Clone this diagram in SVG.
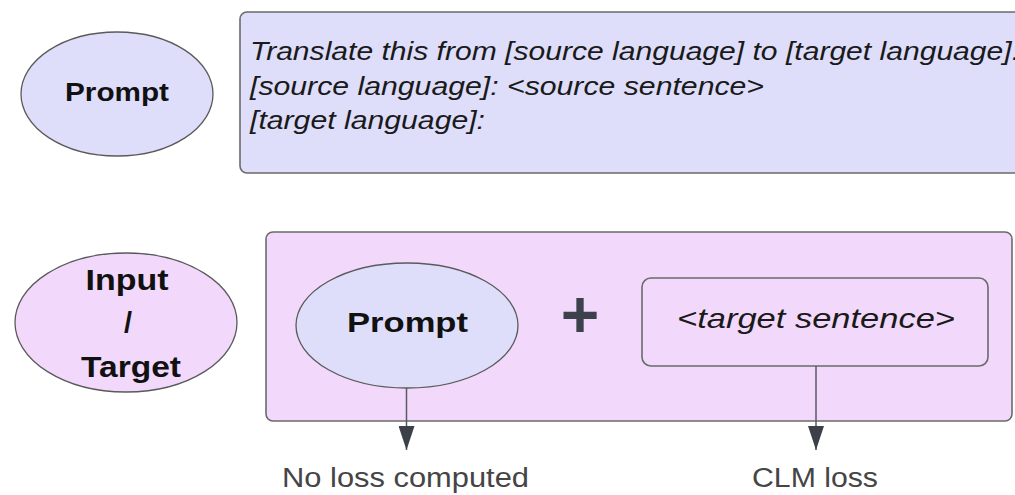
<svg xmlns="http://www.w3.org/2000/svg" width="1015" height="495" viewBox="0 0 1015 495">
  <style>
    .blue { fill: #dedefb; stroke: #5a5a5a; stroke-width: 1.3; }
    .pink { fill: #f2d9fc; stroke: #5a5a5a; stroke-width: 1.3; }
    .box { stroke: #6a6a6a; stroke-width: 1.6; }
    .bold { font-family: "Liberation Sans", Arial, sans-serif; font-weight: bold; fill: #111; }
    .ital { font-family: "Liberation Sans", Arial, sans-serif; font-style: italic; fill: #1a1a1a; }
    .lbl { font-family: "Liberation Sans", Arial, sans-serif; fill: #454545; }
    .conn { stroke: #555a62; stroke-width: 1.5; fill: none; }
  </style>
  <defs>
    <marker id="arrow" viewBox="0 0 24 16" refX="24" refY="8" markerWidth="24" markerHeight="16" markerUnits="userSpaceOnUse" orient="auto">
      <path d="M0,0 L24,8 L0,16 Z" fill="#3b4049"/>
    </marker>
  </defs>

  <g id="prompt-label">
    <ellipse class="blue" cx="117" cy="94" rx="96" ry="62"/>
    <text class="bold" x="117" y="101" font-size="26" text-anchor="middle" textLength="104" lengthAdjust="spacingAndGlyphs">Prompt</text>
  </g>

  <g id="prompt-box">
    <rect class="blue box" x="240" y="12" width="800" height="161" rx="7"/>
    <text class="ital" x="250" y="60" font-size="26" textLength="770" lengthAdjust="spacingAndGlyphs">Translate this from [source language] to [target language].</text>
    <text class="ital" x="250" y="95" font-size="26" textLength="514" lengthAdjust="spacingAndGlyphs">[source language]: &lt;source sentence&gt;</text>
    <text class="ital" x="250" y="129" font-size="26" textLength="235" lengthAdjust="spacingAndGlyphs">[target language]:</text>
  </g>

  <g id="input-target-label">
    <ellipse class="pink" cx="126" cy="322.5" rx="111" ry="69.5"/>
    <text class="bold" x="127" y="290" font-size="29" text-anchor="middle" textLength="83" lengthAdjust="spacingAndGlyphs">Input</text>
    <text class="bold" x="128" y="333" font-size="29" text-anchor="middle">/</text>
    <text class="bold" x="131" y="377" font-size="29" text-anchor="middle" textLength="100" lengthAdjust="spacingAndGlyphs">Target</text>
  </g>

  <g id="sequence-box">
    <rect class="pink box" x="266" y="232" width="746" height="189" rx="7"/>
  </g>

  <g id="prompt-part">
    <ellipse class="blue" cx="407" cy="325.5" rx="111" ry="62.5"/>
    <text class="bold" x="407.5" y="332" font-size="28" text-anchor="middle" textLength="121" lengthAdjust="spacingAndGlyphs">Prompt</text>
  </g>

  <g id="plus">
    <text x="580" y="337" font-family="Liberation Sans, Arial, sans-serif" font-weight="bold" font-size="66" fill="#3c414b" text-anchor="middle">+</text>
  </g>

  <g id="target-part">
    <rect class="pink box" x="642" y="278" width="346" height="88" rx="9"/>
    <text class="ital" x="816" y="328" font-size="28" text-anchor="middle" textLength="278" lengthAdjust="spacingAndGlyphs">&lt;target sentence&gt;</text>
  </g>

  <g id="connectors">
    <line class="conn" x1="406.5" y1="388" x2="406.5" y2="450" marker-end="url(#arrow)"/>
    <line class="conn" x1="816" y1="366" x2="816" y2="450" marker-end="url(#arrow)"/>
  </g>

  <g id="loss-labels">
    <text class="lbl" x="405.5" y="487" font-size="27" text-anchor="middle" textLength="247" lengthAdjust="spacingAndGlyphs">No loss computed</text>
    <text class="lbl" x="815" y="487" font-size="27" text-anchor="middle" textLength="126" lengthAdjust="spacingAndGlyphs">CLM loss</text>
  </g>
</svg>
